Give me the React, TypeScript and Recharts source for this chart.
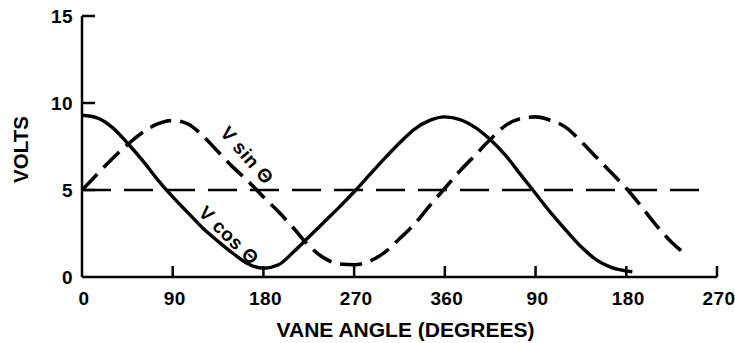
import React from "react";
import { LineChart, Line, XAxis, YAxis, ReferenceLine, ReferenceDot } from "recharts";

const cosAngles = [0, 15, 30, 45, 60, 75, 90, 105, 120, 135, 150, 165, 180, 195, 210, 225, 240, 255, 270, 285, 300, 315, 330, 345, 360, 375, 390, 405, 420, 435, 450, 465, 480, 495, 510, 525, 540, 546];
const cosVolts = [9.3, 9.15, 8.6, 7.7, 6.7, 5.6, 4.6, 3.7, 2.8, 2.05, 1.35, 0.75, 0.5, 0.7, 1.45, 2.3, 3.15, 4.0, 4.9, 5.85, 6.8, 7.7, 8.5, 9.0, 9.2, 9.05, 8.6, 7.9, 7.0, 5.9, 4.8, 3.7, 2.7, 1.75, 1.0, 0.55, 0.35, 0.3];

const sinAngles = [0, 15, 30, 45, 60, 75, 90, 105, 120, 135, 150, 165, 180, 195, 210, 225, 240, 255, 270, 285, 300, 315, 330, 345, 360, 375, 390, 405, 420, 435, 450, 465, 480, 495, 510, 525, 540, 555, 570, 585, 600];
const sinVolts = [5.0, 5.9, 6.8, 7.6, 8.3, 8.8, 9.0, 8.8, 8.1, 7.2, 6.3, 5.5, 4.6, 3.75, 2.8, 1.8, 1.1, 0.75, 0.7, 0.9, 1.4, 2.2, 3.05, 4.1, 5.1, 6.1, 7.0, 7.9, 8.7, 9.1, 9.2, 9.0, 8.6, 7.8, 6.9, 6.0, 5.1, 4.05, 2.95, 2.0, 1.25];

const referenceVolts = 5;
const referenceEnd = 625;

const xTicks = [0, 90, 180, 270, 360, 450, 540, 630];
const xTickLabels = ["0", "90", "180", "270", "360", "90", "180", "270"];
const yTicks = [0, 5, 10, 15];
const yTickLabels = ["0", "5", "10", "15"];

const xTitle = "VANE ANGLE (DEGREES)";
const yTitle = "VOLTS";
const sinLabel = "V sin Θ";
const cosLabel = "V cos Θ";
const sinLabelAt = { x: 164, y: 7.0 };
const cosLabelAt = { x: 146, y: 2.4 };

const cosData = cosAngles.map((a, i) => ({ angle: a, v: cosVolts[i] }));
const sinData = sinAngles.map((a, i) => ({ angle: a, v: sinVolts[i] }));

const FONT = "'Liberation Sans', Arial, Helvetica, sans-serif";
const INK = "#000";

const XTick = (props: any) => {
  const { x, y, payload } = props;
  const idx = xTicks.indexOf(payload.value);
  const label = idx >= 0 ? xTickLabels[idx] : String(payload.value);
  const axisY = y - 15;
  return (
    <g>
      {payload.value !== 0 && (
        <line x1={x} x2={x} y1={axisY} y2={axisY - 11} stroke={INK} strokeWidth={2.5} />
      )}
      <text x={x + 2} y={y} dy="0.71em" textAnchor="middle" fontFamily={FONT} fontWeight="bold" fontSize={19} letterSpacing={0.4} fill={INK}>
        {label}
      </text>
    </g>
  );
};

const YTick = (props: any) => {
  const { x, y, payload } = props;
  const idx = yTicks.indexOf(payload.value);
  const label = idx >= 0 ? yTickLabels[idx] : String(payload.value);
  const axisX = x + 9;
  return (
    <g>
      {payload.value !== 0 && (
        <line x1={axisX} x2={axisX + 13} y1={y} y2={y} stroke={INK} strokeWidth={2.5} />
      )}
      <text x={x} y={y} dy="0.36em" textAnchor="end" fontFamily={FONT} fontWeight="bold" fontSize={19} letterSpacing={0.4} fill={INK}>
        {label}
      </text>
    </g>
  );
};

const rotatedLabel = (text: string, angle: number) => (props: any) => {
  const vb = props.viewBox || {};
  const cx = (vb.x || 0) + (vb.width || 0) / 2;
  const cy = (vb.y || 0) + (vb.height || 0) / 2;
  return (
    <text
      x={cx}
      y={cy}
      dy="0.36em"
      textAnchor="middle"
      transform={`rotate(${angle}, ${cx}, ${cy})`}
      fontFamily={FONT}
      fontWeight="bold"
      fontSize={19}
      letterSpacing={0.6}
      fill={INK}
      style={{ whiteSpace: "pre" }}
    >
      {text}
    </text>
  );
};

export default function App() {
  return (
    <div style={{ position: "absolute", left: 0, top: 0, width: 735, height: 343, background: "#fff" }}>
      <LineChart width={735} height={343} data={cosData} margin={{ top: 16, right: 18, bottom: 0, left: 0 }}>
        <XAxis
          dataKey="angle"
          type="number"
          domain={[0, 630]}
          ticks={xTicks}
          interval={0}
          tickSize={0}
          tickMargin={15}
          tick={<XTick />}
          tickLine={false}
          axisLine={{ stroke: INK, strokeWidth: 2.5 }}
          height={66}
          allowDataOverflow
          label={(p: any) => {
            const vb = p.viewBox;
            return (
              <text x={vb.x + vb.width / 2 + 6} y={vb.y + 60} textAnchor="middle" fontFamily={FONT} fontWeight="bold" fontSize={21} fill={INK}>
                {xTitle}
              </text>
            );
          }}
        />
        <YAxis
          type="number"
          domain={[0, 15]}
          ticks={yTicks}
          interval={0}
          tickSize={0}
          tickMargin={9}
          tick={<YTick />}
          tickLine={false}
          axisLine={{ stroke: INK, strokeWidth: 2.5 }}
          width={82}
          allowDataOverflow
          label={(p: any) => {
            const vb = p.viewBox;
            const cx = 28;
            const cy = vb.y + vb.height / 2 + 3;
            return (
              <text x={cx} y={cy} textAnchor="middle" transform={`rotate(-90, ${cx}, ${cy})`} fontFamily={FONT} fontWeight="bold" fontSize={20.5} fill={INK}>
                {yTitle}
              </text>
            );
          }}
        />
        <ReferenceLine
          segment={[
            { x: 0, y: referenceVolts },
            { x: referenceEnd, y: referenceVolts },
          ]}
          stroke={INK}
          strokeWidth={2.5}
          strokeDasharray="29 13"
          ifOverflow="visible"
        />
        <Line
          data={sinData}
          dataKey="v"
          type="monotone"
          stroke={INK}
          strokeWidth={3.6}
          strokeDasharray="22 9"
          dot={false}
          activeDot={false}
          isAnimationActive={false}
        />
        <Line
          data={cosData}
          dataKey="v"
          type="monotone"
          stroke={INK}
          strokeWidth={3.4}
          dot={false}
          activeDot={false}
          isAnimationActive={false}
        />
        <ReferenceDot x={sinLabelAt.x} y={sinLabelAt.y} r={1} fill="none" stroke="none" label={rotatedLabel(sinLabel, 49)} ifOverflow="visible" />
        <ReferenceDot x={cosLabelAt.x} y={cosLabelAt.y} r={1} fill="none" stroke="none" label={rotatedLabel(cosLabel, 44)} ifOverflow="visible" />
      </LineChart>
    </div>
  );
}
